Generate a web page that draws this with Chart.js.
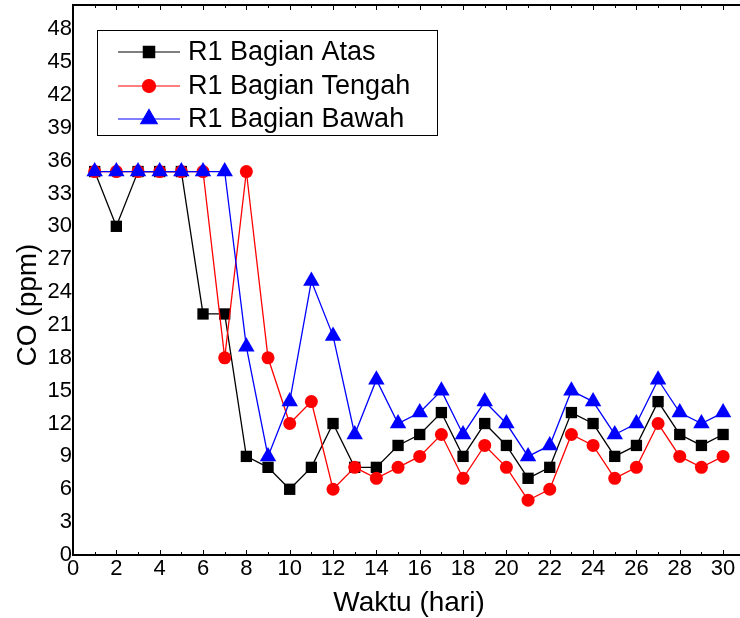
<!DOCTYPE html>
<html>
<head>
<meta charset="utf-8">
<script src="https://cdn.jsdelivr.net/npm/chart.js@4/dist/chart.umd.min.js"></script>
<style>
  body { margin: 0; background: #fff; }
  #wrap { width: 740px; height: 618px; }
</style>
</head>
<body>
<div id="wrap"><canvas id="coChart" width="740" height="618"></canvas></div>
<script>
const days = [1, 2, 3, 4, 5, 6, 7, 8, 9, 10, 11, 12, 13, 14, 15, 16, 17, 18, 19, 20, 21, 22, 23, 24, 25, 26, 27, 28, 29, 30];
const atas = [35, 30, 35, 35, 35, 22, 22, 9, 8, 6, 8, 12, 8, 8, 10, 11, 13, 9, 12, 10, 7, 8, 13, 12, 9, 10, 14, 11, 10, 11];
const tengah = [35, 35, 35, 35, 35, 35, 18, 35, 18, 12, 14, 6, 8, 7, 8, 9, 11, 7, 10, 8, 5, 6, 11, 10, 7, 8, 12, 9, 8, 9];
const bawah = [35, 35, 35, 35, 35, 35, 35, 19, 9, 14, 25, 20, 11, 16, 12, 13, 15, 11, 14, 12, 9, 10, 15, 14, 11, 12, 16, 13, 12, 13];
const seriesNames = ["R1 Bagian Atas", "R1 Bagian Tengah", "R1 Bagian Bawah"];
const xTicks = [0, 2, 4, 6, 8, 10, 12, 14, 16, 18, 20, 22, 24, 26, 28, 30];
const yTicks = [0, 3, 6, 9, 12, 15, 18, 21, 24, 27, 30, 33, 36, 39, 42, 45, 48];
const xTitle = "Waktu (hari)";
const yTitle = "CO (ppm)";

const toPoints = arr => arr.map((v, i) => ({ x: days[i], y: v }));

const FONT = "Arial, 'Liberation Sans', sans-serif";

// no extra room for the end labels, the frame is fixed
const noLabelPadding = function () {
  this.paddingTop = 0;
  this.paddingBottom = 0;
  this.paddingLeft = 0;
  this.paddingRight = 0;
};

// frame top line, inward ticks, axis titles, boxed legend
const framePlugin = {
  id: "frame",
  afterDraw(chart) {
    const { ctx, chartArea: a, scales } = chart;
    ctx.save();
    ctx.strokeStyle = "#000";
    ctx.lineWidth = 2;
    ctx.beginPath();
    ctx.moveTo(a.left, a.top);
    ctx.lineTo(a.right, a.top);
    ctx.stroke();

    ctx.lineWidth = 1;
    for (let v = 0; v <= 30; v++) {
      const px = Math.round(scales.x.getPixelForValue(v)) + 0.5;
      const len = v % 2 === 0 ? 5 : 3;
      ctx.beginPath();
      ctx.moveTo(px, a.bottom);
      ctx.lineTo(px, a.bottom - len);
      ctx.moveTo(px, a.top);
      ctx.lineTo(px, a.top + len);
      ctx.stroke();
    }

    ctx.fillStyle = "#000";
    ctx.font = "28px " + FONT;
    ctx.textAlign = "center";
    ctx.textBaseline = "middle";
    ctx.fillText(xTitle, 409, 603);

    ctx.save();
    ctx.translate(28, 305);
    ctx.rotate(-Math.PI / 2);
    ctx.fillText(yTitle, 0, 0);
    ctx.restore();

    // legend
    const bx = 97, by = 30, bw = 340, bh = 105;
    ctx.fillStyle = "#fff";
    ctx.fillRect(bx, by, bw, bh);
    ctx.strokeStyle = "#000";
    ctx.lineWidth = 1;
    ctx.strokeRect(bx + 0.5, by + 0.5, bw, bh);
    const rows = [52, 86, 119];
    chart.data.datasets.forEach((ds, i) => {
      const y = rows[i];
      ctx.strokeStyle = ds.borderColor;
      ctx.lineWidth = 1.2;
      ctx.beginPath();
      ctx.moveTo(118, y);
      ctx.lineTo(180, y);
      ctx.stroke();
      ctx.fillStyle = ds.backgroundColor;
      Chart.helpers.drawPoint(ctx, {
        pointStyle: ds.pointStyle,
        radius: ds.pointRadius,
        rotation: 0,
        borderWidth: 1
      }, 149, y);
      ctx.fillStyle = "#000";
      ctx.font = "27px " + FONT;
      ctx.textBaseline = "middle";
      ctx.textAlign = "left";
      ctx.fillText(seriesNames[i], 188, y + 1);
    });
    ctx.restore();
  }
};

new Chart(document.getElementById("coChart"), {
  type: "line",
  data: {
    datasets: [
      {
        label: seriesNames[0],
        data: toPoints(atas),
        borderColor: "#000000",
        backgroundColor: "#000000",
        pointStyle: "rect",
        pointRadius: 8,
        order: 2
      },
      {
        label: seriesNames[1],
        data: toPoints(tengah),
        borderColor: "#ff0000",
        backgroundColor: "#ff0000",
        pointStyle: "circle",
        pointRadius: 6.5,
        order: 1
      },
      {
        label: seriesNames[2],
        data: toPoints(bawah),
        borderColor: "#0000ff",
        backgroundColor: "#0000ff",
        pointStyle: "triangle",
        pointRadius: 9.5,
        order: 0
      }
    ]
  },
  options: {
    responsive: false,
    animation: false,
    datasets: {
      line: { borderWidth: 1.3, pointBorderWidth: 0, tension: 0, clip: false }
    },
    layout: { autoPadding: false, padding: { top: 5, right: 0, left: 0, bottom: 0 } },
    plugins: {
      legend: { display: false },
      tooltip: { enabled: false }
    },
    scales: {
      x: {
        type: "linear",
        min: 0,
        max: 30.78,
        afterBuildTicks: s => {
          s.ticks = xTicks.map(v => ({ value: v }));
          s._calculatePadding = noLabelPadding;
        },
        afterFit: s => { s.height = 63; },
        grid: { drawOnChartArea: false, drawTicks: false },
        border: { color: "#000", width: 2 },
        ticks: { color: "#000", font: { family: FONT, size: 22 }, padding: 1, maxRotation: 0, autoSkip: false }
      },
      y: {
        min: 0,
        max: 50.2,
        afterBuildTicks: s => {
          s.ticks = yTicks.map(v => ({ value: v }));
          s._calculatePadding = noLabelPadding;
        },
        afterFit: s => { s.width = 73; },
        grid: { drawOnChartArea: false, drawTicks: false },
        border: { color: "#000", width: 2 },
        ticks: { color: "#000", font: { family: FONT, size: 22 }, padding: 1, autoSkip: false }
      }
    }
  },
  plugins: [framePlugin]
});
</script>
</body>
</html>
